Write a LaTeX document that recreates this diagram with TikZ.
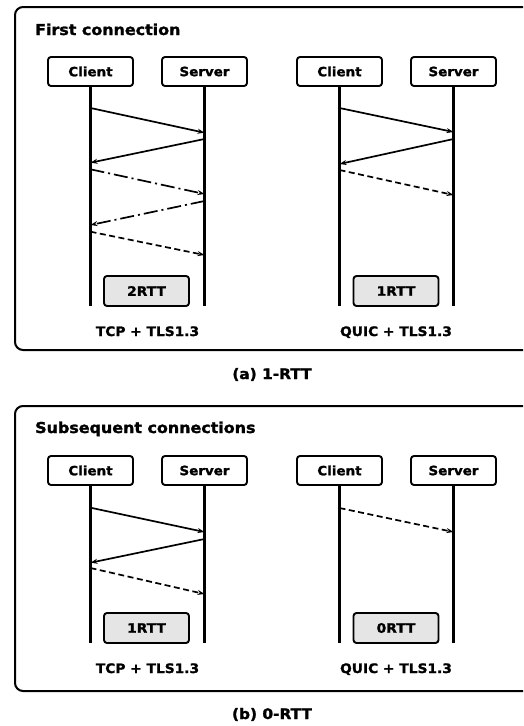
\documentclass[tikz,border=0pt]{standalone}
\usepackage{fontspec}
\setmainfont{DejaVu Sans}[FakeStretch=1.06, BoldFeatures={FakeBold=1.6}]
\usetikzlibrary{arrows.meta}
\begin{document}
\begin{tikzpicture}[x=1pt,y=-1pt,
  frame/.style={draw,line width=2pt,rounded corners=8pt},
  actor/.style={draw,line width=1.9pt,rounded corners=3pt,minimum width=85pt,minimum height=29pt,inner sep=0pt,font=\bfseries\fontsize{12.7}{14}\selectfont},
  rttbox/.style={draw,line width=1.9pt,rounded corners=3pt,fill=black!10,minimum width=85pt,minimum height=30pt,inner sep=0pt,font=\bfseries\fontsize{13}{15}\selectfont},
  lifeline/.style={line width=2.6pt},
  msg/.style={line width=1.7pt,-{Stealth[length=7pt,width=5pt]}},
  dashmsg/.style={msg,dash pattern=on 6pt off 3.5pt},
  dotdashmsg/.style={msg,dash pattern=on 14pt off 4pt on 2pt off 4pt},
  title/.style={anchor=base west,inner sep=0pt,font=\bfseries\fontsize{15}{17}\selectfont},
  proto/.style={anchor=base,inner sep=0pt,font=\bfseries\fontsize{13}{15}\selectfont},
  caption/.style={anchor=base,inner sep=0pt,font=\bfseries\fontsize{14.5}{17}\selectfont}]
\useasboundingbox (0,0) rectangle (523,726);
\clip (0,0) rectangle (523,726);

% ---------- (a) first connection ----------
\draw[frame] (15,7) rectangle (545,350);
\node[title] (t1) at (35,35) {First connection};

\node[actor] (tC1) at (90.5,71.5) {Client};
\node[actor] (tS1) at (204.5,71.5) {Server};
\node[actor] (tC2) at (339.5,71.5) {Client};
\node[actor] (tS2) at (453.5,71.5) {Server};

\coordinate (tC1e) at (90.5,306);
\coordinate (tS1e) at (204.5,306);
\coordinate (tC2e) at (339.5,306);
\coordinate (tS2e) at (453.5,306);
\draw[lifeline] (tC1.south) -- (tC1e);
\draw[lifeline] (tS1.south) -- (tS1e);
\draw[lifeline] (tC2.south) -- (tC2e);
\draw[lifeline] (tS2.south) -- (tS2e);

\node[rttbox] (rtt1) at (146.5,291) {2RTT};
\node[rttbox] (rtt2) at (396,291) {1RTT};

% TCP + TLS1.3 messages
\coordinate (a1) at (90.5,108);   \coordinate (a1e) at (204.5,132.7);
\coordinate (a2) at (204.5,139);  \coordinate (a2e) at (90.5,162.7);
\coordinate (a3) at (90.5,169.3); \coordinate (a3e) at (204.5,194);
\coordinate (a4) at (204.5,201);  \coordinate (a4e) at (90.5,225);
\coordinate (a5) at (90.5,231.7); \coordinate (a5e) at (204.5,255);
\draw[msg] (a1) -- (a1e);
\draw[msg] (a2) -- (a2e);
\draw[dotdashmsg] (a3) -- (a3e);
\draw[dotdashmsg] (a4) -- (a4e);
\draw[dashmsg] (a5) -- (a5e);

% QUIC + TLS1.3 messages
\coordinate (b1) at (339.5,108);  \coordinate (b1e) at (453.5,132);
\coordinate (b2) at (453.5,139);  \coordinate (b2e) at (339.5,164);
\coordinate (b3) at (339.5,170);  \coordinate (b3e) at (453.5,195);
\draw[msg] (b1) -- (b1e);
\draw[msg] (b2) -- (b2e);
\draw[dashmsg] (b3) -- (b3e);

\node[proto] (p1) at (147.5,336) {TCP + TLS1.3};
\node[proto] (p2) at (396,336) {QUIC + TLS1.3};
\node[caption] (capa) at (272,379) {(a) 1-RTT};

% ---------- (b) subsequent connections ----------
\draw[frame] (15,406) rectangle (545,691);
\node[title] (t2) at (35,433) {Subsequent connections};

\node[actor] (bC1) at (90.5,470.5) {Client};
\node[actor] (bS1) at (204.5,470.5) {Server};
\node[actor] (bC2) at (339.5,470.5) {Client};
\node[actor] (bS2) at (453.5,470.5) {Server};

\coordinate (bC1e) at (90.5,643);
\coordinate (bS1e) at (204.5,643);
\coordinate (bC2e) at (339.5,643);
\coordinate (bS2e) at (453.5,643);
\draw[lifeline] (bC1.south) -- (bC1e);
\draw[lifeline] (bS1.south) -- (bS1e);
\draw[lifeline] (bC2.south) -- (bC2e);
\draw[lifeline] (bS2.south) -- (bS2e);

\node[rttbox] (rtt3) at (146.5,628) {1RTT};
\node[rttbox] (rtt4) at (396,628) {0RTT};

\coordinate (c1) at (90.5,507.7); \coordinate (c1e) at (204.5,532);
\coordinate (c2) at (204.5,539);  \coordinate (c2e) at (90.5,562.7);
\coordinate (c3) at (90.5,568);   \coordinate (c3e) at (204.5,594);
\draw[msg] (c1) -- (c1e);
\draw[msg] (c2) -- (c2e);
\draw[dashmsg] (c3) -- (c3e);

\coordinate (d1) at (339.5,508);  \coordinate (d1e) at (453.5,532);
\draw[dashmsg] (d1) -- (d1e);

\node[proto] (p3) at (147.5,673) {TCP + TLS1.3};
\node[proto] (p4) at (396,673) {QUIC + TLS1.3};
\node[caption] (capb) at (272,719) {(b) 0-RTT};
\end{tikzpicture}
\end{document}
